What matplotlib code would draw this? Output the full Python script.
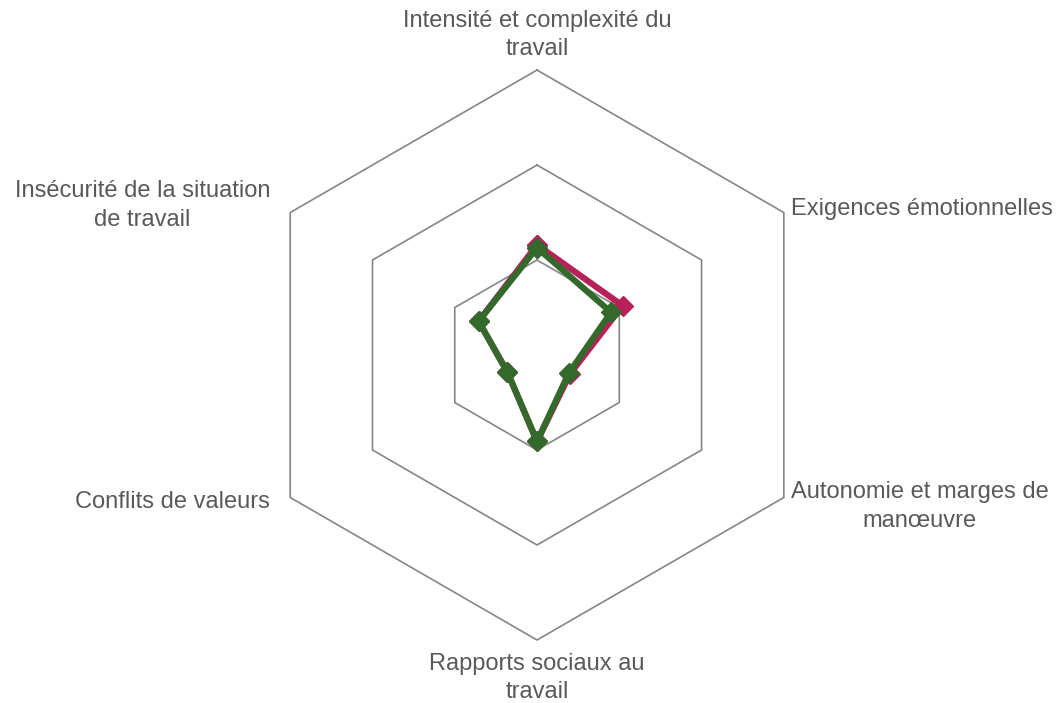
import numpy as np
import matplotlib
matplotlib.use("Agg")
import matplotlib.pyplot as plt

plt.rcParams['font.family'] = ['Liberation Sans', 'DejaVu Sans']

categories = [
    "Intensité et complexité du\ntravail",
    "Exigences émotionnelles",
    "Autonomie et marges de\nmanœuvre",
    "Rapports sociaux au\ntravail",
    "Conflits de valeurs",
    "Insécurité de la situation\nde travail",
]
series_red = [1.16, 1.04, 0.40, 0.91, 0.36, 0.71]
series_green = [1.13, 0.90, 0.385, 0.91, 0.36, 0.71]
rings = [1, 2, 3]

red = "#B7215A"
green = "#336A2B"
grid_c = "#858585"
text_c = "#595959"

fig = plt.figure(figsize=(10.59, 7.03), dpi=100)
ax = fig.add_axes([0.2380, 0.0896, 0.5382, 0.8108], projection='polar')
ax.set_theta_offset(np.pi / 2)
ax.set_theta_direction(-1)
ax.set_ylim(0, 3)
ax.grid(False)
ax.spines['polar'].set_visible(False)
ax.set_xticks([])
ax.set_yticks([])
ax.patch.set_alpha(0)

n = len(categories)
angles = np.arange(n) * 2 * np.pi / n
ang_c = np.append(angles, angles[0])

for r in rings:
    ax.plot(ang_c, [r] * (n + 1), color=grid_c, lw=1.2, zorder=1, clip_on=False)

def closed(v):
    return np.append(v, v[0])

ax.plot(ang_c, closed(series_red), color=red, lw=4.5, marker='D', markersize=10,
        solid_joinstyle='miter', zorder=3)
ax.plot(ang_c, closed(series_green), color=green, lw=4.5, marker='D', markersize=10,
        solid_joinstyle='miter', zorder=4)

# labels
fs = 17
offsets = [
    (0, 10, 'center', 'bottom'),
    (7, 4, 'left', 'center'),
    (7, -9, 'left', 'center'),
    (0, -13, 'center', 'top'),
    (-20, -4, 'right', 'center'),
    (-20, 7, 'right', 'center'),
]
for a, lab, (dx, dy, ha, va) in zip(angles, categories, offsets):
    ax.annotate(lab, xy=(a, 3), xytext=(dx, dy), textcoords='offset pixels',
                ha=ha, va=va, multialignment='center', fontsize=fs, color=text_c,
                annotation_clip=False, linespacing=1.38)

fig.savefig("out.png", dpi=100)
